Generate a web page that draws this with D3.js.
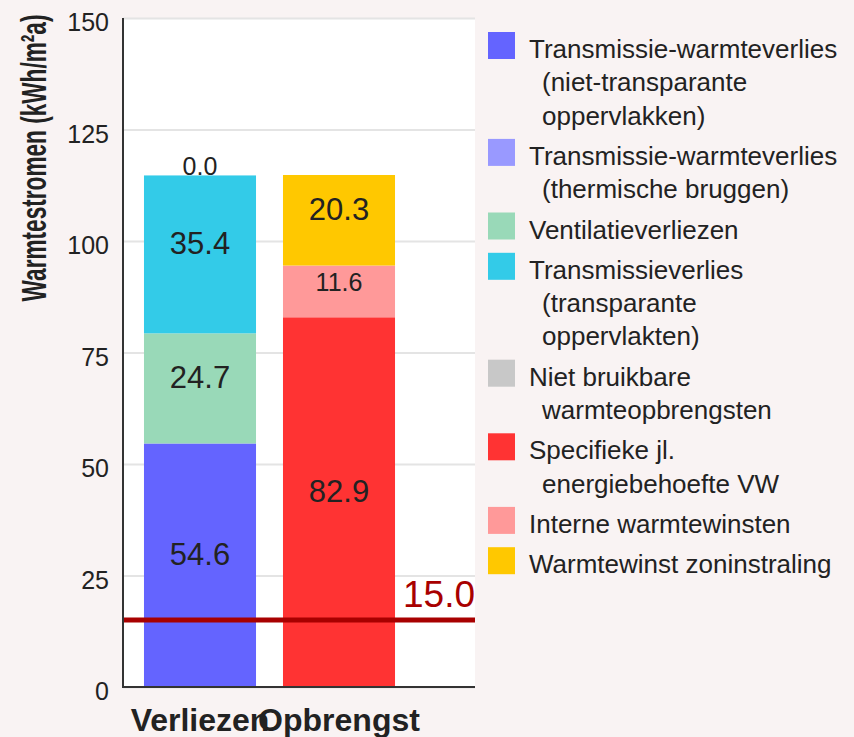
<!DOCTYPE html>
<html>
<head>
<meta charset="utf-8">
<script src="https://cdn.jsdelivr.net/npm/d3@7"></script>
<style>
  body { margin: 0; background: #f9f3f3; }
  svg { display: block; font-family: "Liberation Sans", Arial, sans-serif; }
</style>
</head>
<body>
<svg id="chart" width="854" height="737"></svg>
<script>
// categories (bars)
const categories = ["Verliezen", "Opbrengst"];

// series, bottom to top of the stack
const seriesNames = [
  "Transmissie-warmteverlies (niet-transparante oppervlakken)",
  "Transmissie-warmteverlies (thermische bruggen)",
  "Ventilatieverliezen",
  "Transmissieverlies (transparante oppervlakten)",
  "Niet bruikbare warmteopbrengsten",
  "Specifieke jl. energiebehoefte VW",
  "Interne warmtewinsten",
  "Warmtewinst zoninstraling"
];
const seriesColors = ["#6464ff", "#9999ff", "#99d9b8", "#33cbe8", "#c8c8c8", "#ff3333", "#ff9999", "#ffc800"];

// values per category (null = not part of that bar)
const verliezen = [54.6, null, 24.7, 35.4, 0.0, null, null, null];
const opbrengst = [null, null, null, null, null, 82.9, 11.6, 20.3];
const valuesByCat = [verliezen, opbrengst];

const yTicks = [0, 25, 50, 75, 100, 125, 150];
const yTitle = "Warmtestromen (kWh/m²a)";
const target = 15.0;

const svg = d3.select("#chart");
const plotLeft = 123, plotRight = 475, plotTop = 18, plotBottom = 687;

const y = d3.scaleLinear().domain([0, 150]).range([plotBottom, plotTop]);
const x = d3.scaleBand()
  .domain(categories)
  .range([130.5, 408.5])
  .paddingInner(0.194)
  .paddingOuter(0.097);

// plot background
svg.append("rect")
  .attr("x", plotLeft).attr("y", plotTop)
  .attr("width", plotRight - plotLeft).attr("height", plotBottom - plotTop)
  .attr("fill", "#fff");

// gridlines
const grid = svg.append("g")
  .attr("transform", `translate(${plotLeft},0)`)
  .call(d3.axisLeft(y).tickValues(yTicks).tickSize(-(plotRight - plotLeft)).tickFormat(""));
grid.select(".domain").remove();
grid.selectAll("line").attr("stroke", "#e4e4e4").attr("stroke-width", 2);

// stacked bars
const segs = [];
valuesByCat.forEach((vals, ci) => {
  let base = 0;
  vals.forEach((v, si) => {
    if (v === null) return;
    segs.push({ cat: categories[ci], s: si, y0: base, y1: base + v, v: v });
    base += v;
  });
});

svg.append("g").selectAll("rect")
  .data(segs.filter(d => d.v > 0))
  .join("rect")
  .attr("x", d => x(d.cat))
  .attr("width", x.bandwidth())
  .attr("y", d => y(d.y1))
  .attr("height", d => y(d.y0) - y(d.y1))
  .attr("fill", d => seriesColors[d.s]);

svg.append("g").selectAll("text")
  .data(segs)
  .join("text")
  .attr("x", d => x(d.cat) + x.bandwidth() / 2)
  .attr("y", d => y((d.y0 + d.y1) / 2))
  .attr("text-anchor", "middle")
  .attr("font-size", d => (y(d.y0) - y(d.y1)) > 60 ? 31 : 25)
  .attr("fill", "#222")
  .text(d => d.v.toFixed(1));

// target line
svg.append("line")
  .attr("x1", plotLeft).attr("x2", plotRight)
  .attr("y1", y(target)).attr("y2", y(target))
  .attr("stroke", "#a80000").attr("stroke-width", 5);
svg.append("text")
  .attr("x", plotRight).attr("y", y(target) - 13)
  .attr("text-anchor", "end")
  .attr("font-size", 37)
  .attr("fill", "#a80000")
  .text(target.toFixed(1));

// axis lines
svg.append("line")
  .attr("x1", plotLeft).attr("x2", plotLeft)
  .attr("y1", plotTop).attr("y2", plotBottom)
  .attr("stroke", "#333").attr("stroke-width", 2);
svg.append("line")
  .attr("x1", plotLeft - 1).attr("x2", plotRight)
  .attr("y1", plotBottom).attr("y2", plotBottom)
  .attr("stroke", "#333").attr("stroke-width", 2);

// y tick labels
const yAxis = svg.append("g")
  .attr("transform", `translate(${plotLeft},0)`)
  .call(d3.axisLeft(y).tickValues(yTicks).tickSize(0).tickPadding(14));
yAxis.select(".domain").remove();
yAxis.selectAll("text")
  .attr("dy", "0.5em")
  .attr("font-size", 25)
  .attr("font-family", "Liberation Sans, Arial, sans-serif")
  .attr("fill", "#222");

// x category labels
const xAxis = svg.append("g")
  .attr("transform", `translate(0,${plotBottom})`)
  .call(d3.axisBottom(x).tickSize(0).tickPadding(0));
xAxis.select(".domain").remove();
xAxis.selectAll("text")
  .attr("y", 44).attr("dy", 0)
  .attr("font-size", 32)
  .attr("font-weight", "bold")
  .attr("font-family", "Liberation Sans, Arial, sans-serif")
  .attr("fill", "#222");

// y title (condensed bold: squeeze horizontally to fit 287px)
const title = svg.append("text")
  .attr("text-anchor", "middle")
  .attr("font-size", 35)
  .attr("font-weight", "bold")
  .attr("fill", "#222")
  .text(yTitle);
const tw = title.node().getComputedTextLength();
title.attr("transform", `translate(46,158) rotate(-90) scale(${287 / tw},1)`);

// legend
const legend = svg.append("g");
const lineH = 33.3, itemGap = 7, maxW = 308;
let baseY = 58;
seriesNames.forEach((name, i) => {
  const item = legend.append("g");
  item.append("rect")
    .attr("x", 488).attr("y", baseY - 26)
    .attr("width", 27).attr("height", 27)
    .attr("fill", seriesColors[i]);
  // word wrap
  const words = name.split(" ");
  const lines = [];
  let cur = "";
  const probe = item.append("text").attr("font-size", 26);
  words.forEach(w => {
    const test = cur ? cur + " " + w : w;
    probe.text(test);
    if (cur && probe.node().getComputedTextLength() > maxW) {
      lines.push(cur);
      cur = w;
    } else {
      cur = test;
    }
  });
  lines.push(cur);
  probe.remove();
  lines.forEach((ln, j) => {
    item.append("text")
      .attr("x", j === 0 ? 529 : 542)
      .attr("y", baseY + j * lineH)
      .attr("font-size", 26)
      .attr("fill", "#222")
      .text(ln);
  });
  baseY += lines.length * lineH + itemGap;
});
</script>
</body>
</html>
